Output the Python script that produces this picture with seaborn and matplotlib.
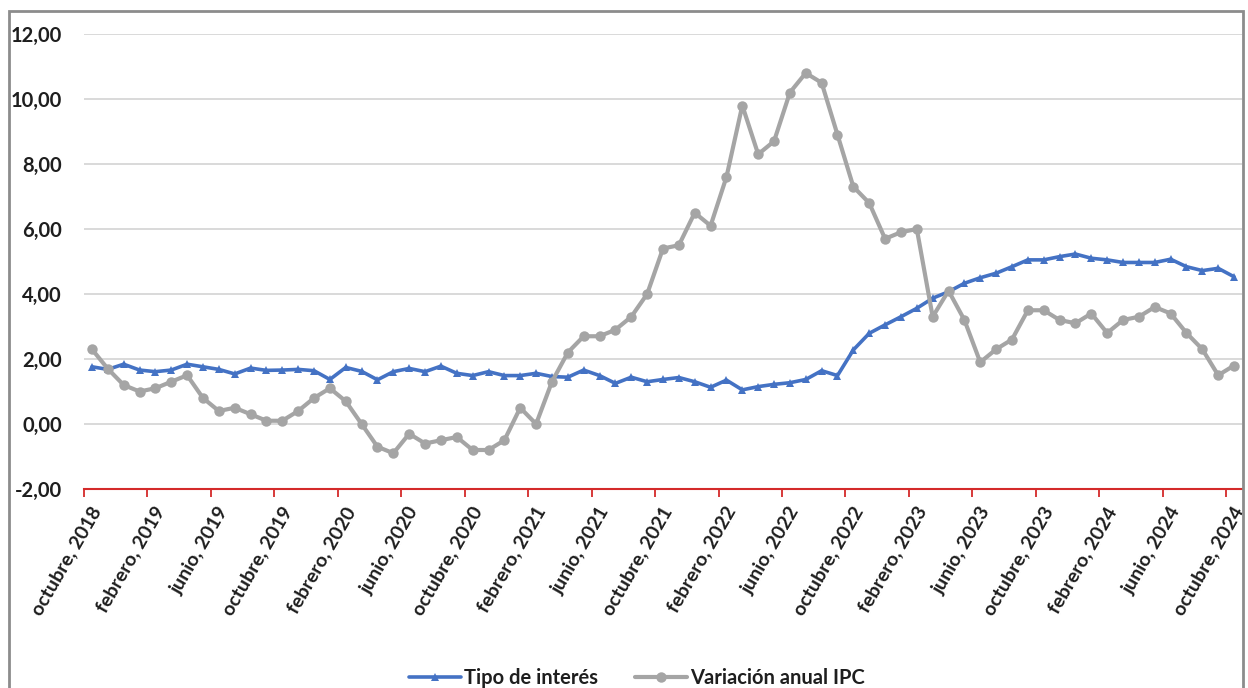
import numpy as np
import pandas as pd
import matplotlib
matplotlib.use("Agg")
import matplotlib.pyplot as plt
import matplotlib.transforms as mtransforms
from matplotlib.patches import Rectangle
from matplotlib.ticker import FuncFormatter
import seaborn as sns

# Serie mensual: octubre 2018 - octubre 2024 (73 meses)
tipo_interes = [
    1.76, 1.68, 1.84, 1.66, 1.61, 1.66, 1.84, 1.76, 1.68, 1.54, 1.72, 1.65,
    1.66, 1.68, 1.64, 1.37, 1.74, 1.62, 1.36, 1.61, 1.71, 1.61, 1.78, 1.56,
    1.49, 1.61, 1.49, 1.49, 1.56, 1.46, 1.44, 1.66, 1.49, 1.25, 1.44, 1.30,
    1.37, 1.43, 1.30, 1.13, 1.35, 1.05, 1.15, 1.22, 1.27, 1.37, 1.64, 1.49,
    2.28, 2.79, 3.05, 3.30, 3.56, 3.87, 4.07, 4.33, 4.50, 4.64, 4.84, 5.05,
    5.05, 5.15, 5.23, 5.10, 5.05, 4.97, 4.97, 4.97, 5.07, 4.84, 4.72, 4.79,
    4.53,
]
ipc_anual = [
    2.3, 1.7, 1.2, 1.0, 1.1, 1.3, 1.5, 0.8, 0.4, 0.5, 0.3, 0.1,
    0.1, 0.4, 0.8, 1.1, 0.7, 0.0, -0.7, -0.9, -0.3, -0.6, -0.5, -0.4,
    -0.8, -0.8, -0.5, 0.5, 0.0, 1.3, 2.2, 2.7, 2.7, 2.9, 3.3, 4.0,
    5.4, 5.5, 6.5, 6.1, 7.6, 9.8, 8.3, 8.7, 10.2, 10.8, 10.5, 8.9,
    7.3, 6.8, 5.7, 5.9, 6.0, 3.3, 4.1, 3.2, 1.9, 2.3, 2.6, 3.5,
    3.5, 3.2, 3.1, 3.4, 2.8, 3.2, 3.3, 3.6, 3.4, 2.8, 2.3, 1.5,
    1.8,
]
etiquetas_x = [
    "octubre, 2018", "febrero, 2019", "junio, 2019", "octubre, 2019",
    "febrero, 2020", "junio, 2020", "octubre, 2020", "febrero, 2021",
    "junio, 2021", "octubre, 2021", "febrero, 2022", "junio, 2022",
    "octubre, 2022", "febrero, 2023", "junio, 2023", "octubre, 2023",
    "febrero, 2024", "junio, 2024", "octubre, 2024",
]
valores_y = [-2, 0, 2, 4, 6, 8, 10, 12]

n = len(ipc_anual)
df = pd.DataFrame({
    "mes": np.arange(n) + 0.5,
    "Tipo de interés": tipo_interes,
    "Variación anual IPC": ipc_anual,
})

sns.set_theme(style="white")
plt.rcParams["font.family"] = ["Lato", "DejaVu Sans"]
plt.rcParams["font.weight"] = "bold"

W, H = 1248, 688
fig = plt.figure(figsize=(W / 100, H / 100), dpi=100)
ax = fig.add_axes([84 / W, 1 - 489 / H, (1242 - 84) / W, (489 - 34) / H])

azul = "#4472C4"
gris = "#A5A5A5"
rojo = "#D42A2A"
texto = "#1e1e1e"

sns.lineplot(data=df, x="mes", y="Tipo de interés", ax=ax, color=azul,
             lw=2.6, marker="^", markersize=6, markeredgewidth=0,
             label="Tipo de interés", zorder=3)
sns.lineplot(data=df, x="mes", y="Variación anual IPC", ax=ax, color=gris,
             lw=3.0, marker="o", markersize=7.5, markeredgewidth=0,
             label="Variación anual IPC", zorder=4)

ax.set_xlim(0, n)
ax.set_ylim(valores_y[0], valores_y[-1])
ax.set_yticks(valores_y)
ax.yaxis.set_major_formatter(FuncFormatter(lambda v, p: f"{v:.2f}".replace(".", ",")))
ax.set_xticks(np.arange(0, n, 4))
ax.set_xticklabels(etiquetas_x, rotation=60, ha="right", va="top",
                   rotation_mode="anchor")
ax.set_xlabel("")
ax.set_ylabel("")

ax.yaxis.grid(True, color="#d9d9d9", lw=1.4)
ax.xaxis.grid(False)
for side in ["left", "right", "top"]:
    ax.spines[side].set_visible(False)
ax.spines["bottom"].set_color(rojo)
ax.spines["bottom"].set_linewidth(1.5)

ax.tick_params(axis="y", length=0, pad=16, labelsize=14.5, labelcolor=texto)
ax.tick_params(axis="x", direction="out", length=5.5, width=1.3, color=rojo,
               pad=3, labelsize=14, labelcolor=texto, bottom=True)
desplazamiento = mtransforms.ScaledTranslation(6 / 100, -3 / 100, fig.dpi_scale_trans)
for lab in ax.get_xticklabels():
    lab.set_fontweight("bold")
    lab.set_transform(lab.get_transform() + desplazamiento)
for lab in ax.get_yticklabels():
    lab.set_fontweight("bold")

ax.legend_.remove()
handles, labels = ax.get_legend_handles_labels()
leg = fig.legend(handles, labels, loc="center", ncol=2, frameon=False,
                 bbox_to_anchor=(637 / W, 1 - 678 / H), handlelength=2.6,
                 columnspacing=1.8, handletextpad=0.15,
                 prop={"size": 14.5, "weight": "bold"})
for t in leg.get_texts():
    t.set_color(texto)

# marco exterior del gráfico
fig.patches.append(Rectangle((9 / W, -0.05), (1243 - 9) / W, 1 - 11 / H + 0.05,
                             transform=fig.transFigure, fill=False,
                             edgecolor="#8c8c8c", lw=2, zorder=0))

fig.savefig("out.png", dpi=100)
